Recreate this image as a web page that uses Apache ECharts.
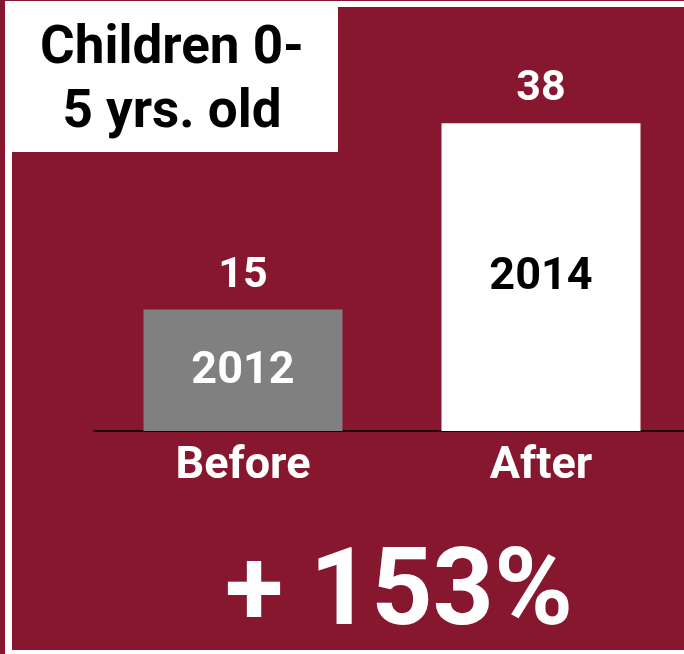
<!DOCTYPE html>
<html>
<head>
<meta charset="utf-8">
<script src="https://cdn.jsdelivr.net/npm/echarts@6/dist/echarts.min.js"></script>
<style>
html,body{margin:0;padding:0;background:#86172F;}
#chart{width:684px;height:654px;}
</style>
</head>
<body>
<div id="chart"></div>
<script>
const categories = ['Before', 'After'];
const values = [15, 38];
const yearLabels = ['2012', '2014'];
const barColors = ['#808080', '#ffffff'];
const yearColors = ['#ffffff', '#000000'];
const titleLines = ['Children 0-', '5 yrs. old'];
const changeText = '+ 153%';

const FONT = 'Roboto';
const chart = echarts.init(document.getElementById('chart'), null, {renderer: 'canvas'});

const option = {
  backgroundColor: '#86172F',
  animation: false,
  grid: {left: 94, width: 596, top: 26, height: 405, containLabel: false, outerBoundsMode: 'none'},
  xAxis: {
    type: 'category',
    data: categories,
    axisLine: {show: true, lineStyle: {color: '#000', width: 1.5}},
    axisTick: {show: false},
    axisLabel: {color: '#fff', fontFamily: FONT, fontWeight: 'bold', fontSize: 45, margin: 13}
  },
  yAxis: {
    type: 'value', min: 0, max: 50, show: false, splitLine: {show: false}
  },
  series: [
    {
      type: 'bar',
      barWidth: 199,
      data: values.map((v, i) => ({
        value: v,
        itemStyle: {color: barColors[i]},
        label: {
          show: true, position: 'top', distance: 12,
          formatter: String(v),
          color: '#fff', fontFamily: FONT, fontWeight: 'bold', fontSize: 43
        }
      }))
    },
    {
      type: 'bar',
      barWidth: 199,
      barGap: '-100%',
      silent: true,
      itemStyle: {color: 'transparent'},
      data: values.map((v, i) => ({
        value: v,
        label: {
          show: true, position: 'inside', offset: [0, 1],
          formatter: yearLabels[i],
          color: yearColors[i], fontFamily: FONT, fontWeight: 'bold', fontSize: 45
        }
      }))
    }
  ],
  graphic: [
    {type: 'rect', shape: {x: 5, y: 1, width: 679, height: 6}, style: {fill: '#fff'}, z: 100},
    {type: 'rect', shape: {x: 5, y: 1, width: 7, height: 653}, style: {fill: '#fff'}, z: 100},
    {type: 'rect', shape: {x: 5, y: 650, width: 679, height: 4}, style: {fill: '#fff'}, z: 100},
    {type: 'rect', shape: {x: 5, y: 1, width: 333, height: 151}, style: {fill: '#fff'}, z: 100},
    {type: 'text', x: 172, y: 50, z: 101,
      style: {text: titleLines[0], fill: '#000', font: 'bold 53px Roboto', textAlign: 'center', textVerticalAlign: 'middle'}},
    {type: 'text', x: 172, y: 114, z: 101,
      style: {text: titleLines[1], fill: '#000', font: 'bold 53px Roboto', textAlign: 'center', textVerticalAlign: 'middle'}},
    {type: 'text', x: 399, y: 597, z: 101,
      style: {text: changeText, fill: '#fff', font: 'bold 107px Roboto', textAlign: 'center', textVerticalAlign: 'middle'}}
  ]
};
chart.setOption(option);
</script>
</body>
</html>
